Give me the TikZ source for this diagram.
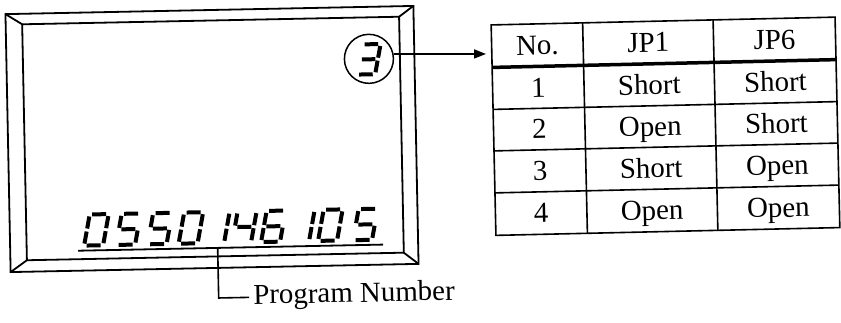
\documentclass[tikz,border=0pt]{standalone}
\usepackage{fontspec}
\setmainfont{Liberation Serif}
\usetikzlibrary{arrows.meta}
\newcommand\lcddigit[4]{%
  \begin{scope}[shift={(#1,#2)}, scale=#3, xslant=0.2]
    \coordinate (a1) at (2.5,-31); \coordinate (a2) at (16.5,-31);
    \coordinate (b1) at (19,-29);  \coordinate (b2) at (19,-17);
    \coordinate (c1) at (19,-14);  \coordinate (c2) at (19,-2);
    \coordinate (d1) at (2.5,0);   \coordinate (d2) at (16.5,0);
    \coordinate (e1) at (0,-2);    \coordinate (e2) at (0,-14);
    \coordinate (f1) at (0,-17);   \coordinate (f2) at (0,-29);
    \coordinate (g1) at (2.5,-15.5); \coordinate (g2) at (16.5,-15.5);
    \foreach \s in {#4}{\draw[seg] (\s1) -- (\s2);}
  \end{scope}}
\begin{document}
\begin{tikzpicture}[x=1bp,y=-1bp,
  frameline/.style={line width=1.8bp, line join=miter},
  seg/.style={line width=4bp, line cap=butt},
  tline/.style={line width=1.6bp},
  ttext/.style={font=\fontsize{29}{32}\selectfont, inner sep=0pt, anchor=base},
  ]
\useasboundingbox (0,0) rectangle (841,322);

% ---------- display frame ----------
\begin{scope}[rotate around={1.15:(212,139)}, transform shape]
  \draw[frameline] (8,10) rectangle (416,268);
  \draw[frameline] (24.5,20.5) rectangle (401.5,256.5);
  \draw[frameline] (8,10) -- (24.5,20.5);
  \draw[frameline] (416,10) -- (401.5,20.5);
  \draw[frameline] (416,268) -- (401.5,256.5);
  \draw[frameline] (8,268) -- (24.5,256.5);

  \node[circle, draw, line width=1.5bp, minimum size=49bp, inner sep=0pt] (c3) at (370.5,62) {};
  \lcddigit{358}{77.5}{0.97}{a,b,g,c,d}

  \lcddigit{82}{243}{1}{a,b,c,d,e,f}
  \lcddigit{114}{243}{1}{a,f,g,c,d}
  \lcddigit{145.5}{243}{1}{a,f,g,c,d}
  \lcddigit{176.5}{243}{1}{a,b,c,d,e,f}
  \lcddigit{203}{243}{1}{b,c}
  \lcddigit{230}{243}{1}{f,g,b,c}
  \lcddigit{259}{243}{1}{a,f,g,e,d,c}
  \lcddigit{288}{243}{1}{b,c}
  \lcddigit{316}{243}{1}{a,b,c,d,e,f}
  \lcddigit{351}{243}{1}{a,f,g,c,d}

  \draw[line width=1.8bp] (76,248) -- (381,248);
  \coordinate (ulpt) at (215.5,248);
  \node[font=\fontsize{29}{32}\selectfont, inner ysep=0pt, inner xsep=4bp, anchor=base west] (lbl) at (246,305) {Program Number};
  \draw[tline] (ulpt) |- (lbl.west);
\end{scope}

% ---------- table ----------
\begin{scope}[rotate around={1.3:(665.5,126.75)}, transform shape]
  \draw[tline] (493.5,21) rectangle (837.5,231.5);
  \draw[tline] (585,21) -- (585,231.5);
  \draw[tline] (715.5,21) -- (715.5,231.5);
  \draw[line width=3.5bp] (493.5,63.5) -- (837.5,63.5);
  \draw[tline] (493.5,105.5) -- (837.5,105.5);
  \draw[tline] (493.5,147) -- (837.5,147);
  \draw[tline] (493.5,189) -- (837.5,189);

  \node[ttext] (h0) at (539.25,51.75) {No.};
  \node[ttext] (h1) at (650.25,51.75) {JP1};
  \node[ttext] (h2) at (776.5,51.75) {JP6};

  \node[ttext] (r10) at (539.25,94) {1};
  \node[ttext] (r11) at (650.25,94) {Short};
  \node[ttext] (r12) at (776.5,94) {Short};

  \node[ttext] (r20) at (539.25,135.75) {2};
  \node[ttext] (r21) at (650.25,135.75) {Open};
  \node[ttext] (r22) at (776.5,135.75) {Short};

  \node[ttext] (r30) at (539.25,177.5) {3};
  \node[ttext] (r31) at (650.25,177.5) {Short};
  \node[ttext] (r32) at (776.5,177.5) {Open};

  \node[ttext] (r40) at (539.25,219.75) {4};
  \node[ttext] (r41) at (650.25,219.75) {Open};
  \node[ttext] (r42) at (776.5,219.75) {Open};
\end{scope}

% ---------- arrow ----------
\coordinate (arrtip) at (486,56);
\draw[tline, -{Triangle[length=12bp,width=9bp]}] (c3.10) -- (c3.10 -| arrtip);
\end{tikzpicture}
\end{document}
